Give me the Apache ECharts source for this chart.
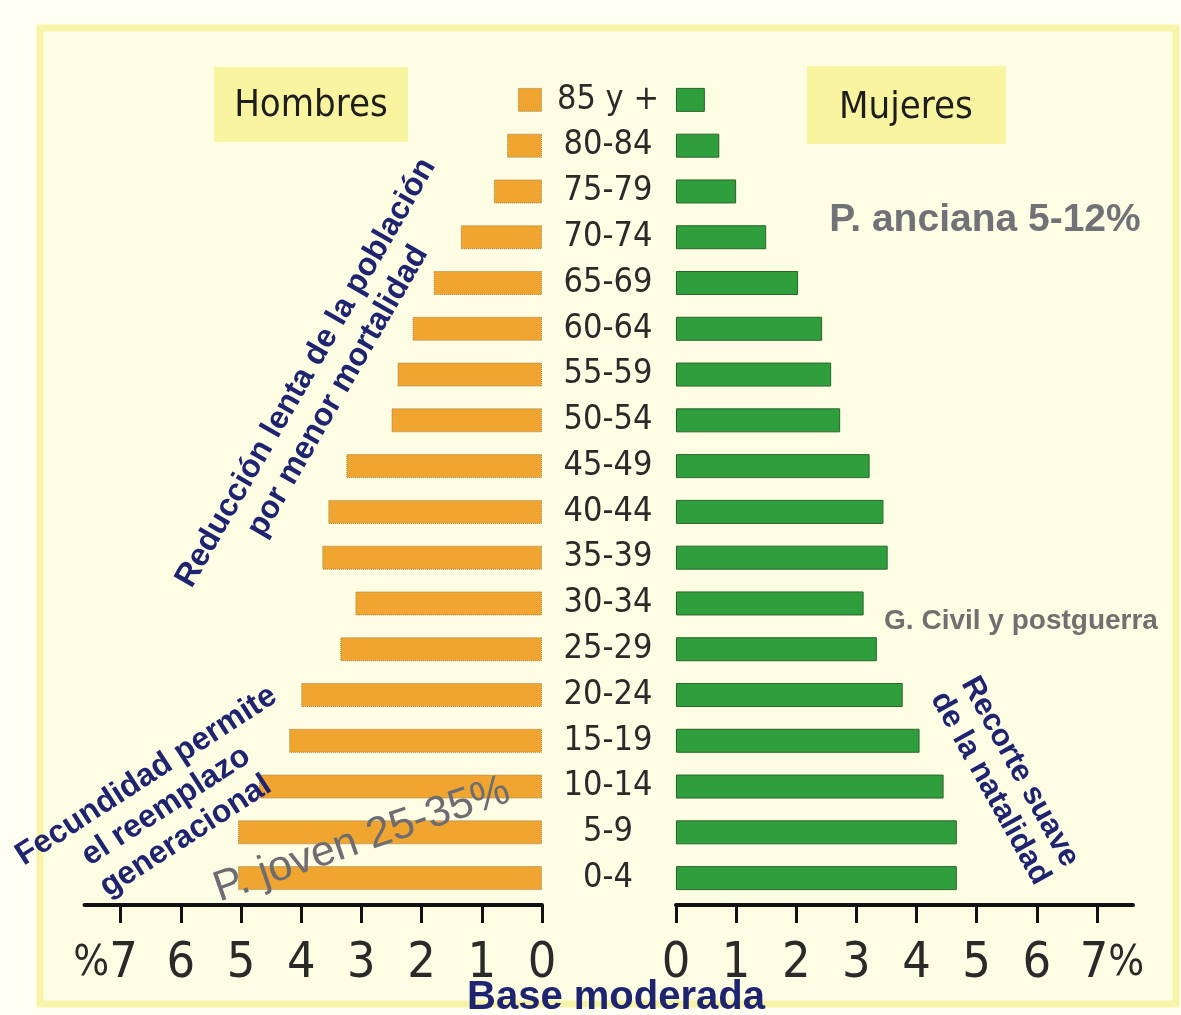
<!DOCTYPE html>
<html>
<head>
<meta charset="utf-8">
<script src="https://cdn.jsdelivr.net/npm/echarts@6/dist/echarts.min.js"></script>
<style>
html,body{margin:0;padding:0;background:#fffff4;}
#chart{width:1181px;height:1015px;}
</style>
</head>
<body>
<div id="chart"></div>
<script>
// ---- data ----
const categories = ['0-4','5-9','10-14','15-19','20-24','25-29','30-34','35-39','40-44','45-49','50-54','55-59','60-64','65-69','70-74','75-79','80-84','85 y +'];
const hombres = [5.05, 5.05, 4.7, 4.2, 4.0, 3.35, 3.1, 3.65, 3.55, 3.25, 2.5, 2.4, 2.15, 1.8, 1.35, 0.8, 0.58, 0.4];
const mujeres = [4.67, 4.67, 4.45, 4.05, 3.77, 3.34, 3.12, 3.52, 3.45, 3.22, 2.73, 2.58, 2.43, 2.03, 1.5, 1.0, 0.72, 0.48];
const tickValues = [0, 1, 2, 3, 4, 5, 6, 7];
const axisMax = 7.6;

const NARROW = "'Liberation Sans Narrow','DejaVu Sans Condensed',sans-serif";
const SANS = "'Liberation Sans',Arial,sans-serif";
const NAVY = '#1f2470';
const GRAY = '#717178';

const chart = echarts.init(document.getElementById('chart'), null, {renderer: 'canvas'});

function tickLabel(side) {
  return function (v) {
    if (v === 7) {
      return side === 'left' ? '{p|%}{n|7}{s|}' : '{s|}{n|7}{p|%}';
    }
    return '{n|' + v + '}';
  };
}
const labelRich = {
  n: {fontSize: 50, fontFamily: NARROW, color: '#2a2a2a'},
  p: {fontSize: 42, fontFamily: NARROW, color: '#2a2a2a'},
  s: {width: 30}
};

function xAxisFor(idx, inverse, side) {
  return {
    type: 'value', gridIndex: idx, min: 0, max: axisMax, inverse: inverse,
    offset: 4,
    axisLine: {show: true, lineStyle: {color: '#111', width: 4}},
    axisTick: {show: true, customValues: tickValues, length: 18, lineStyle: {color: '#111', width: 3}},
    axisLabel: {show: true, customValues: tickValues, formatter: tickLabel(side), rich: labelRich, margin: 34},
    splitLine: {show: false}
  };
}

const option = {
  backgroundColor: '#fffff4',
  animation: false,
  grid: [
    {left: 84.5, width: 457.5, top: 77, height: 824},
    {left: 676, width: 457, top: 77, height: 824}
  ],
  xAxis: [xAxisFor(0, true, 'left'), xAxisFor(1, false, 'right')],
  yAxis: [
    {type: 'category', gridIndex: 0, data: categories, position: 'right',
     axisLine: {show: false}, axisTick: {show: false}, axisLabel: {show: false}},
    {type: 'category', gridIndex: 1, data: categories, position: 'left',
     axisLine: {show: false}, axisTick: {show: false},
     axisLabel: {show: true, margin: 68, align: 'center', fontSize: 34, fontFamily: NARROW, color: '#2a2a2a'}}
  ],
  series: [
    {name: 'Hombres', type: 'bar', xAxisIndex: 0, yAxisIndex: 0, data: hombres, barWidth: 24,
     itemStyle: {color: '#efa52f', borderColor: '#a08050', borderWidth: 1, borderType: 'dotted'}},
    {name: 'Mujeres', type: 'bar', xAxisIndex: 1, yAxisIndex: 1, data: mujeres, barWidth: 24,
     itemStyle: {color: '#2f9e3c', borderColor: '#2a642c', borderWidth: 1}}
  ],
  graphic: [
    {type: 'rect', z: -10, shape: {x: 40, y: 28, width: 1136, height: 976},
     style: {fill: '#fdfde4', stroke: '#f7f3a8', lineWidth: 7}},
    {type: 'rect', z: -5, shape: {x: 214, y: 67, width: 194, height: 75}, style: {fill: '#f9f4a0'}},
    {type: 'rect', z: -5, shape: {x: 807, y: 66, width: 199, height: 78}, style: {fill: '#f9f4a0'}},
    {type: 'text', z: 50, x: 311, y: 106,
     style: {text: 'Hombres', font: "38px " + NARROW, fill: '#1e1e1e', align: 'center', verticalAlign: 'middle'}},
    {type: 'text', z: 50, x: 906, y: 108,
     style: {text: 'Mujeres', font: "38px " + NARROW, fill: '#1e1e1e', align: 'center', verticalAlign: 'middle'}},
    {type: 'text', z: 50, x: 985, y: 220,
     style: {text: 'P. anciana 5-12%', font: "bold 39px " + SANS, fill: GRAY, align: 'center', verticalAlign: 'middle'}},
    {type: 'text', z: 50, x: 1021, y: 621,
     style: {text: 'G. Civil y postguerra', font: "bold 28px " + SANS, fill: '#707070', align: 'center', verticalAlign: 'middle'}},
    {type: 'text', z: 50, x: 322, y: 382, rotation: Math.PI / 3,
     style: {text: 'Reducción lenta de la población\npor menor mortalidad', font: "bold 32px " + SANS, fill: NAVY,
             align: 'center', verticalAlign: 'middle', lineHeight: 37}},
    {type: 'text', z: 50, x: 166, y: 806, rotation: 33 * Math.PI / 180,
     style: {text: 'Fecundidad permite\nel reemplazo\ngeneracional', font: "bold 32px " + SANS, fill: NAVY,
             align: 'center', verticalAlign: 'middle', lineHeight: 36}},
    {type: 'text', z: 50, x: 362, y: 840, rotation: 19 * Math.PI / 180,
     style: {text: 'P. joven 25-35%', font: "43px " + SANS, fill: '#6c6c72', align: 'center', verticalAlign: 'middle'}},
    {type: 'text', z: 50, x: 1005, y: 780, rotation: -61 * Math.PI / 180,
     style: {text: 'Recorte suave\nde la natalidad', font: "bold 31px " + SANS, fill: NAVY,
             align: 'center', verticalAlign: 'middle', lineHeight: 34}},
    {type: 'text', z: 50, x: 616, y: 998,
     style: {text: 'Base moderada', font: "bold 40px " + SANS, fill: NAVY, align: 'center', verticalAlign: 'middle'}}
  ]
};
chart.setOption(option);
</script>
</body>
</html>
